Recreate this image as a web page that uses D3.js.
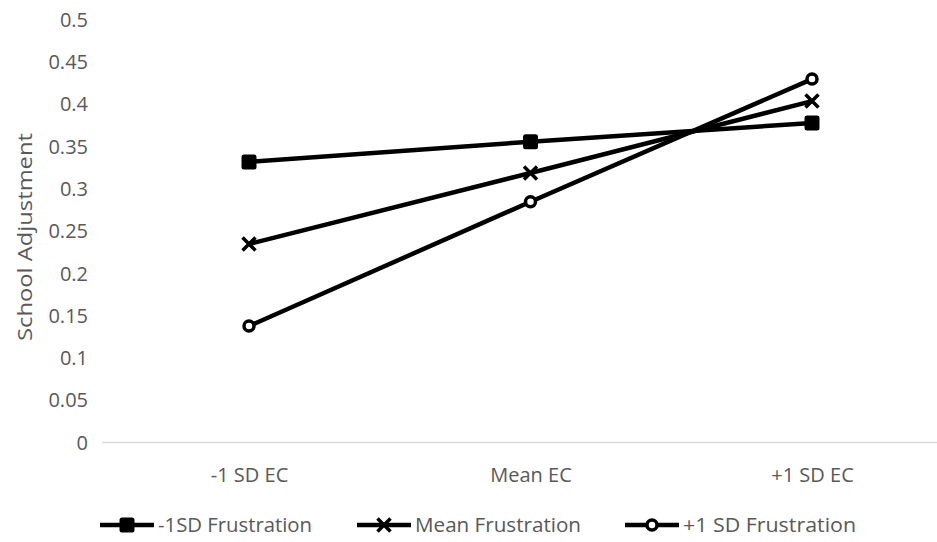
<!DOCTYPE html>
<html><head><meta charset="utf-8">
<script src="https://cdn.jsdelivr.net/npm/d3@7"></script>
<style>body{margin:0;background:#fff;} text{font-family:"Open Sans","Liberation Sans",sans-serif;fill:#595959;}</style>
</head><body>
<svg id="chart" width="937" height="542"></svg>
<script>
const categories = ["-1 SD EC", "Mean EC", "+1 SD EC"];
const seriesNames = ["-1SD Frustration", "Mean Frustration", "+1 SD Frustration"];
const lowFrustration = [0.331, 0.355, 0.377];
const meanFrustration = [0.234, 0.318, 0.403];
const highFrustration = [0.137, 0.284, 0.429];
const yTicks = [0, 0.05, 0.1, 0.15, 0.2, 0.25, 0.3, 0.35, 0.4, 0.45, 0.5];
const markers = ["square", "cross", "circle"];

const series = [lowFrustration, meanFrustration, highFrustration].map((v, i) => ({name: seriesNames[i], values: v, marker: markers[i]}));

const svg = d3.select("#chart");
const x = d3.scalePoint().domain(categories).range([249, 812]).padding(0);
const y = d3.scaleLinear().domain([0, 0.5]).range([442, 19]);

// y tick labels
const yAxis = d3.axisLeft(y).tickValues(yTicks).tickFormat(d => String(+d.toFixed(2))).tickSize(0).tickPadding(0);
const gy = svg.append("g").attr("transform", "translate(88,0)").call(yAxis);
gy.select(".domain").remove();
gy.selectAll("text").style("font-size", "20px").attr("fill", "#595959").attr("font-family", null).attr("dy", "0.36em");

// x axis line
svg.append("line").attr("x1", 102).attr("x2", 937).attr("y1", y(0) + 0.5).attr("y2", y(0) + 0.5).attr("stroke", "#d9d9d9").attr("stroke-width", 1.5);
const xAxis = d3.axisBottom(x).tickSize(0).tickPadding(0);
const gx = svg.append("g").attr("transform", "translate(0,482)").call(xAxis);
gx.select(".domain").remove();
gx.selectAll("text").style("font-size", "20px").attr("fill", "#595959").attr("font-family", null).attr("dy", "0");

// y title
svg.append("text").attr("transform", "translate(32,237) rotate(-90)").attr("text-anchor", "middle")
  .style("font-size", "20px").attr("textLength", 208).attr("lengthAdjust", "spacingAndGlyphs").text("School Adjustment");

function drawMarker(g, type, cx, cy) {
  if (type === "square") {
    g.append("rect").attr("x", cx - 7.5).attr("y", cy - 7.5).attr("width", 15).attr("height", 15).attr("rx", 2.5).attr("fill", "#000");
  } else if (type === "cross") {
    g.append("path").attr("d", `M${cx-6.5},${cy-6.5}L${cx+6.5},${cy+6.5}M${cx-6.5},${cy+6.5}L${cx+6.5},${cy-6.5}`).attr("stroke", "#000").attr("stroke-width", 3.5).attr("fill", "none");
  } else {
    g.append("circle").attr("cx", cx).attr("cy", cy).attr("r", 5).attr("fill", "#fff").attr("stroke", "#000").attr("stroke-width", 3.5);
  }
}

const line = d3.line().x((d, i) => x(categories[i])).y(d => y(d));
series.forEach(s => {
  const g = svg.append("g");
  g.append("path").attr("d", line(s.values)).attr("fill", "none").attr("stroke", "#000").attr("stroke-width", 4.5);
  s.values.forEach((v, i) => drawMarker(g, s.marker, x(categories[i]), y(v)));
});

// legend
const legendX = [100, 357, 625];
const legendTextLen = [154, 166, 173];
series.forEach((s, i) => {
  const g = svg.append("g");
  const ly = 525;
  g.append("line").attr("x1", legendX[i]).attr("x2", legendX[i] + 54).attr("y1", ly).attr("y2", ly).attr("stroke", "#000").attr("stroke-width", 4.5);
  drawMarker(g, s.marker, legendX[i] + 27, ly);
  g.append("text").attr("x", legendX[i] + 58).attr("y", ly).attr("dy", "0.36em").style("font-size", "20px")
    .attr("textLength", legendTextLen[i]).attr("lengthAdjust", "spacingAndGlyphs").text(s.name);
});
</script>
</body></html>
